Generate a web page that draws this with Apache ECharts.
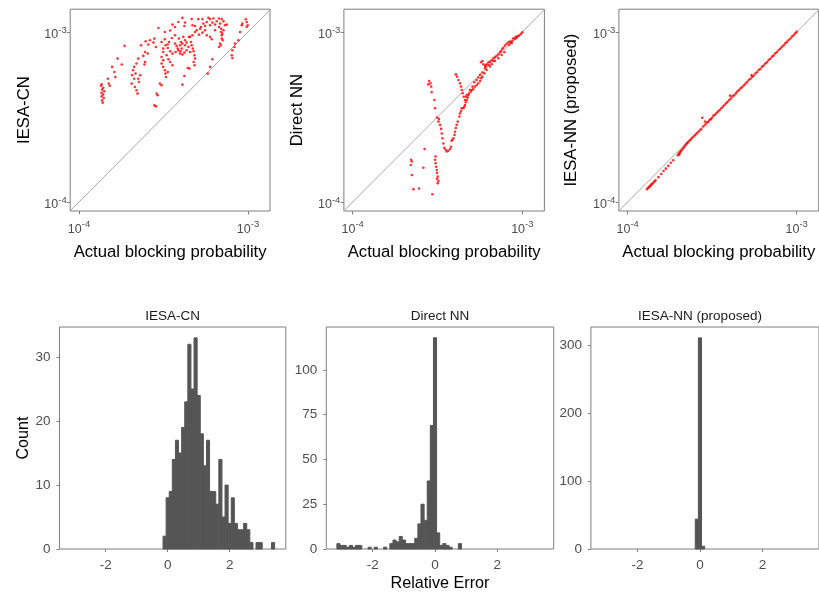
<!DOCTYPE html>
<html>
<head>
<meta charset="utf-8">
<title>Blocking probability: predicted vs actual</title>
<script src="https://cdn.jsdelivr.net/npm/echarts/dist/echarts.min.js"></script>
<style>
  html, body { margin: 0; padding: 0; background: #fff; }
  #chart { width: 819px; height: 594px; }
</style>
</head>
<body>
<div id="chart"></div>
<script>
(function() {
  /** Data */
  var modelNames = ['IESA-CN', 'Direct NN', 'IESA-NN (proposed)'];
  var logTicks = [1e-4, 1e-3];
  var errTicks = [-2, 0, 2];
  var countTicks = [[0, 10, 20, 30], [0, 25, 50, 75, 100], [0, 100, 200, 300]];
  var refLine = [[8.8e-5, 8.8e-5], [1.4e-3, 1.4e-3]];

  // [actual, predicted]
  var iesaCnPoints = [
    [4.09e-4,1.21e-3],[4.64e-4,1.19e-3],[5.08e-4,1.19e-3],[5.37e-4,1.19e-3],[5.83e-4,1.21e-3],[5.96e-4,1.19e-3],
    [6.24e-4,1.20e-3],[6.74e-4,1.20e-3],[6.99e-4,1.19e-3],[7.15e-4,1.155e-3],[7.48e-4,1.105e-3],[6.15e-4,1.135e-3],
    [5.96e-4,1.095e-3],[5.57e-4,1.085e-3],[5.27e-4,1.07e-3],[4.86e-4,1.085e-3],[4.69e-4,1.095e-3],[4.24e-4,1.135e-3],
    [4.20e-4,1.085e-3],[3.87e-4,1.145e-3],[3.70e-4,1.07e-3],[3.57e-4,1.105e-3],[3.46e-4,1.02e-3],[3.22e-4,1.0e-3],
    [2.95e-4,1.056e-3],[2.79e-4,9.14e-4],[2.63e-4,8.93e-4],[2.48e-4,8.81e-4],[2.76e-4,8.66e-4],[2.57e-4,8.43e-4],
    [2.33e-4,8.35e-4],[2.85e-4,8.16e-4],[1.86e-4,8.28e-4],[2.46e-4,7.63e-4],[2.55e-4,7.46e-4],[2.40e-4,7.23e-4],
    [2.24e-4,6.97e-4],[3.22e-4,9.06e-4],[3.08e-4,8.73e-4],[3.25e-4,8.35e-4],[3.15e-4,7.98e-4],[3.35e-4,8.05e-4],
    [3.46e-4,7.70e-4],[3.57e-4,7.46e-4],[3.73e-4,7.63e-4],[3.84e-4,7.98e-4],[3.96e-4,8.35e-4],[4.09e-4,8.54e-4],
    [4.24e-4,8.93e-4],[4.48e-4,9.35e-4],[4.69e-4,9.56e-4],[4.86e-4,1.0e-3],[5.13e-4,9.64e-4],[5.37e-4,9.91e-4],
    [5.57e-4,1.023e-3],[5.70e-4,9.56e-4],[5.96e-4,9.35e-4],[6.10e-4,9.06e-4],[6.38e-4,1.023e-3],[6.74e-4,1.07e-3],
    [6.93e-4,1.0e-3],[6.99e-4,9.56e-4],[7.09e-4,8.93e-4],[6.83e-4,8.54e-4],[6.74e-4,8.16e-4],[7.15e-4,1.023e-3],
    [7.31e-4,1.095e-3],[9.18e-4,1.095e-3],[9.26e-4,1.12e-3],[9.69e-4,1.187e-3],[9.82e-4,1.145e-3],[9.96e-4,1.095e-3],
    [9.82e-4,1.07e-3],[8.97e-4,1.0e-3],[8.77e-4,8.93e-4],[8.38e-4,8.54e-4],[8.31e-4,8.16e-4],[8.08e-4,7.81e-4],
    [8.01e-4,7.29e-4],[8.08e-4,7.03e-4],[6.15e-4,6.91e-4],[5.96e-4,6.23e-4],[5.78e-4,5.69e-4],[4.54e-4,9.35e-4],
    [4.60e-4,8.73e-4],[4.64e-4,8.35e-4],[4.71e-4,7.98e-4],[4.77e-4,7.70e-4],[4.82e-4,7.29e-4],[4.86e-4,6.97e-4],
    [4.77e-4,6.66e-4],[4.82e-4,6.37e-4],[4.50e-4,6.09e-4],[4.40e-4,6.14e-4],[4.20e-4,5.51e-4],[4.09e-4,4.90e-4],
    [3.98e-4,7.70e-4],[4.05e-4,7.98e-4],[4.20e-4,7.56e-4],[4.33e-4,7.81e-4],[3.57e-4,6.37e-4],[3.46e-4,6.66e-4],
    [3.38e-4,6.91e-4],[3.30e-4,7.29e-4],[3.15e-4,7.63e-4],[3.08e-4,7.13e-4],[3.15e-4,6.81e-4],[3.08e-4,6.52e-4],
    [3.15e-4,6.23e-4],[3.22e-4,5.95e-4],[3.25e-4,5.69e-4],[3.35e-4,5.82e-4],[3.27e-4,5.43e-4],[3.01e-4,4.97e-4],
    [3.08e-4,4.86e-4],[2.88e-4,4.34e-4],[2.92e-4,4.24e-4],[2.79e-4,3.70e-4],[2.85e-4,3.65e-4],[2.46e-4,6.66e-4],
    [2.44e-4,6.43e-4],[2.19e-4,6.52e-4],[2.12e-4,6.23e-4],[2.09e-4,5.95e-4],[2.16e-4,5.69e-4],[2.06e-4,5.56e-4],
    [2.12e-4,5.31e-4],[2.05e-4,4.97e-4],[2.14e-4,4.75e-4],[2.19e-4,4.54e-4],[2.22e-4,4.34e-4],[2.24e-4,5.31e-4],
    [2.30e-4,5.56e-4],[2.26e-4,5.08e-4],[1.69e-4,6.97e-4],[1.79e-4,6.43e-4],[1.57e-4,6.23e-4],[1.62e-4,5.82e-4],
    [1.48e-4,5.31e-4],[1.64e-4,5.43e-4],[1.50e-4,4.97e-4],[1.52e-4,4.82e-4],[1.36e-4,4.93e-4],[1.35e-4,4.82e-4],
    [1.39e-4,4.69e-4],[1.37e-4,4.58e-4],[1.41e-4,4.48e-4],[1.36e-4,4.38e-4],[1.39e-4,4.28e-4],[1.36e-4,4.18e-4],
    [1.40e-4,4.09e-4],[1.37e-4,3.96e-4],[1.38e-4,3.84e-4],[3.70e-4,8.54e-4],[3.78e-4,8.28e-4],[3.87e-4,7.81e-4],
    [3.96e-4,7.46e-4],[4.09e-4,7.36e-4],[4.24e-4,8.35e-4],[4.33e-4,8.66e-4],[4.44e-4,8.16e-4],[4.54e-4,7.63e-4],
    [4.01e-4,8.73e-4],[4.14e-4,9.35e-4],[3.90e-4,9.14e-4],[3.70e-4,9.56e-4],[3.54e-4,9.22e-4],[3.41e-4,8.73e-4],
    [3.35e-4,8.43e-4],[6.83e-4,1.12e-3],[6.93e-4,1.045e-3],[7.05e-4,9.78e-4],[6.99e-4,9.14e-4],[6.90e-4,8.35e-4],
    [5.20e-4,1.045e-3],[4.97e-4,1.023e-3],[5.44e-4,1.12e-3],[5.70e-4,1.145e-3],[6.38e-4,1.105e-3],[6.53e-4,1.155e-3]
  ];

  var directNnPoints = [
    [1.0e-3,9.96e-4],[9.82e-4,9.74e-4],[9.56e-4,9.52e-4],[9.27e-4,9.26e-4],[9.06e-4,9.10e-4],[8.73e-4,8.90e-4],
    [8.46e-4,8.78e-4],[8.27e-4,8.69e-4],[8.08e-4,8.51e-4],[8.35e-4,8.39e-4],[8.65e-4,8.58e-4],[7.90e-4,8.31e-4],
    [7.62e-4,7.94e-4],[7.48e-4,7.73e-4],[7.22e-4,7.39e-4],[7.06e-4,7.25e-4],[6.90e-4,7.13e-4],[6.75e-4,7.00e-4],
    [6.60e-4,6.84e-4],[6.45e-4,6.69e-4],[6.31e-4,6.63e-4],[6.16e-4,6.46e-4],[6.03e-4,6.34e-4],[5.81e-4,6.75e-4],
    [5.71e-4,6.63e-4],[5.89e-4,6.46e-4],[6.08e-4,6.26e-4],[6.31e-4,6.40e-4],[6.90e-4,6.75e-4],[7.22e-4,7.00e-4],
    [7.55e-4,7.32e-4],[7.83e-4,7.59e-4],[8.85e-4,9.18e-4],[9.14e-4,9.35e-4],[9.39e-4,9.43e-4],[8.58e-4,8.69e-4],
    [7.72e-4,8.08e-4],[7.38e-4,7.59e-4],[6.75e-4,6.75e-4],[6.60e-4,6.46e-4],[6.45e-4,6.26e-4],[6.16e-4,5.97e-4],
    [5.97e-4,5.71e-4],[5.81e-4,5.46e-4],[5.71e-4,5.34e-4],[5.63e-4,5.15e-4],[5.50e-4,4.99e-4],[5.38e-4,4.88e-4],
    [5.26e-4,4.77e-4],[5.14e-4,4.62e-4],[5.03e-4,4.56e-4],[4.98e-4,4.46e-4],[4.85e-4,4.36e-4],[4.81e-4,4.26e-4],
    [4.76e-4,4.11e-4],[4.70e-4,3.98e-4],[4.64e-4,3.86e-4],[4.59e-4,3.72e-4],[4.55e-4,3.64e-4],[4.49e-4,3.56e-4],
    [4.05e-4,5.63e-4],[4.12e-4,5.46e-4],[4.20e-4,5.22e-4],[4.29e-4,4.99e-4],[4.35e-4,4.77e-4],[4.39e-4,4.56e-4],
    [4.45e-4,4.36e-4],[4.51e-4,4.16e-4],[4.59e-4,3.98e-4],[2.82e-4,5.15e-4],[2.87e-4,4.99e-4],[2.79e-4,4.92e-4],
    [2.90e-4,4.77e-4],[2.92e-4,4.42e-4],[3.03e-4,3.98e-4],[3.06e-4,3.56e-4],[3.14e-4,3.14e-4],[3.20e-4,2.97e-4],
    [3.27e-4,2.84e-4],[3.32e-4,2.69e-4],[3.35e-4,2.53e-4],[3.38e-4,2.37e-4],[3.42e-4,2.21e-4],[3.47e-4,2.08e-4],
    [3.53e-4,2.03e-4],[3.58e-4,1.98e-4],[3.66e-4,2.00e-4],[3.75e-4,2.05e-4],[3.80e-4,2.11e-4],[3.83e-4,2.29e-4],
    [3.87e-4,2.32e-4],[3.92e-4,2.37e-4],[3.98e-4,2.48e-4],[4.01e-4,2.59e-4],[4.05e-4,2.72e-4],[4.10e-4,2.84e-4],
    [4.16e-4,2.97e-4],[4.25e-4,3.18e-4],[4.29e-4,3.32e-4],[4.35e-4,3.43e-4],[4.39e-4,3.56e-4],[3.08e-4,1.85e-4],
    [3.06e-4,1.77e-4],[3.08e-4,1.69e-4],[3.10e-4,1.61e-4],[3.13e-4,1.54e-4],[3.14e-4,1.48e-4],[3.17e-4,1.41e-4],
    [3.14e-4,1.37e-4],[3.20e-4,1.33e-4],[3.17e-4,1.29e-4],[3.22e-4,3.08e-4],[2.65e-4,2.05e-4],[2.21e-4,1.77e-4],
    [2.23e-4,1.73e-4],[2.20e-4,1.65e-4],[2.23e-4,1.44e-4],[2.61e-4,1.59e-4],[2.28e-4,1.19e-4],[2.46e-4,1.20e-4],
    [2.95e-4,1.11e-4],[4.64e-4,4.16e-4],[4.70e-4,4.26e-4],[4.91e-4,4.56e-4],[5.08e-4,4.77e-4],[5.21e-4,5.06e-4],
    [5.38e-4,5.22e-4],[5.50e-4,5.40e-4],[5.63e-4,5.59e-4],[5.81e-4,5.78e-4],[6.03e-4,6.12e-4]
  ];

  var iesaNnPoints = [
    [1.30e-4,1.19e-4],[1.32e-4,1.21e-4],[1.34e-4,1.22e-4],[1.35e-4,1.24e-4],[1.37e-4,1.25e-4],[1.38e-4,1.27e-4],
    [1.40e-4,1.28e-4],[1.42e-4,1.30e-4],[1.44e-4,1.32e-4],[1.46e-4,1.34e-4],[1.52e-4,1.40e-4],[1.58e-4,1.46e-4],
    [1.63e-4,1.52e-4],[1.68e-4,1.57e-4],[1.74e-4,1.63e-4],[1.80e-4,1.70e-4],[1.86e-4,1.76e-4],[1.98e-4,1.88e-4],
    [2.00e-4,1.92e-4],[2.02e-4,1.90e-4],[2.03e-4,1.95e-4],[2.05e-4,1.97e-4],[2.07e-4,2.00e-4],[2.10e-4,2.03e-4],
    [2.13e-4,2.07e-4],[2.16e-4,2.11e-4],[2.19e-4,2.15e-4],[2.22e-4,2.19e-4],[2.25e-4,2.22e-4],[2.28e-4,2.25e-4],
    [2.32e-4,2.29e-4],[2.36e-4,2.33e-4],[2.40e-4,2.38e-4],[2.45e-4,2.42e-4],[2.50e-4,2.47e-4],[2.55e-4,2.52e-4],
    [2.60e-4,2.56e-4],[2.66e-4,2.62e-4],[2.72e-4,2.68e-4],[2.76e-4,3.13e-4],[2.87e-4,2.97e-4],[2.80e-4,2.78e-4],
    [2.88e-4,2.85e-4],[2.95e-4,2.93e-4],[3.00e-4,2.96e-4],[3.05e-4,3.03e-4],[3.10e-4,3.07e-4],[3.16e-4,3.13e-4],
    [3.22e-4,3.22e-4],[3.28e-4,3.26e-4],[3.35e-4,3.33e-4],[3.42e-4,3.40e-4],[3.50e-4,3.47e-4],[3.58e-4,3.56e-4],
    [3.66e-4,3.64e-4],[3.74e-4,3.72e-4],[3.82e-4,3.81e-4],[3.90e-4,3.88e-4],[3.99e-4,3.98e-4],[4.03e-4,4.22e-4],
    [4.08e-4,4.06e-4],[4.17e-4,4.18e-4],[4.26e-4,4.24e-4],[4.36e-4,4.35e-4],[4.46e-4,4.47e-4],[4.56e-4,4.55e-4],
    [4.66e-4,4.67e-4],[4.76e-4,4.74e-4],[4.87e-4,4.86e-4],[4.98e-4,4.98e-4],[5.09e-4,5.07e-4],[5.20e-4,5.21e-4],
    [5.32e-4,5.30e-4],[5.40e-4,5.58e-4],[5.44e-4,5.44e-4],[5.56e-4,5.53e-4],[5.69e-4,5.70e-4],[5.82e-4,5.80e-4],
    [5.95e-4,5.97e-4],[6.09e-4,6.06e-4],[6.23e-4,6.24e-4],[6.37e-4,6.34e-4],[6.52e-4,6.53e-4],[6.67e-4,6.64e-4],
    [6.82e-4,6.84e-4],[6.98e-4,6.95e-4],[7.14e-4,7.16e-4],[7.30e-4,7.27e-4],[7.47e-4,7.48e-4],[7.64e-4,7.62e-4],
    [7.82e-4,7.83e-4],[8.00e-4,7.98e-4],[8.18e-4,8.19e-4],[8.37e-4,8.35e-4],[8.56e-4,8.57e-4],[8.76e-4,8.74e-4],
    [8.96e-4,8.97e-4],[9.17e-4,9.15e-4],[9.38e-4,9.40e-4],[9.60e-4,9.58e-4],[9.82e-4,9.84e-4],[1.0e-3,1.002e-3]
  ];

  // histograms of relative error, bins of width 0.1 centred on multiples of 0.1
  var binWidth = 0.1;
  var iesaCnFirstBin = -0.1;
  var iesaCnCounts = [2, 8, 9, 14, 17, 15, 19, 23, 32, 25, 33, 24, 18, 13, 17, 9, 9, 7, 14, 5,
    10, 4, 8, 4, 3, 3, 4, 3, 1, 0, 1, 1, 0, 0, 0, 1];
  var directNnFirstBin = -3.1;
  var directNnCounts = [3, 2, 2, 1, 2, 1, 2, 2, 0, 0, 1, 0, 1, 0, 0, 1, 0, 3, 5, 4,
    7, 5, 3, 3, 3, 6, 14, 25, 16, 38, 69, 118, 9, 2, 3, 2, 1, 0, 0, 3];
  var iesaNnFirstBin = -0.1;
  var iesaNnCounts = [44, 311, 4];

  /** Style */
  var FONT = 'Liberation Sans';
  var LABEL_COLOR = '#4d4d4d';
  var FRAME_COLOR = '#7f7f7f';
  var BAR_COLOR = '#555555';

  var scatterGrids = [
    { left: 70.2, top: 9.2, width: 199.8, height: 201.8, yGap: 37 },
    { left: 343.9, top: 9.2, width: 200.5, height: 201.8, yGap: 38 },
    { left: 618.9, top: 9.2, width: 199.8, height: 201.8, yGap: 39.5 }
  ];
  var histGrids = [
    { left: 59.5, top: 327, width: 226.3, height: 222 },
    { left: 326.3, top: 327, width: 227.4, height: 222 },
    { left: 590.9, top: 327, width: 230, height: 222 }
  ];
  var histMax = [34.7, 124, 327];

  function powLabel(value) {
    var exp = Math.round(Math.log(value) / Math.LN10);
    return '{base|10}{exp|' + exp + '}';
  }

  var powRich = {
    base: { fontSize: 12.5, lineHeight: 14, padding: [6, 0, 0, 0], color: LABEL_COLOR, fontFamily: FONT },
    exp: { fontSize: 9.5, lineHeight: 12, verticalAlign: 'top', color: LABEL_COLOR, fontFamily: FONT }
  };

  function frame(g) {
    return {
      left: g.left, top: g.top, width: g.width, height: g.height,
      show: true, borderColor: FRAME_COLOR, borderWidth: 1, backgroundColor: 'transparent'
    };
  }

  function logAxis(index, name, gap, isX) {
    return {
      type: 'log',
      gridIndex: index,
      min: isX ? 8.87e-5 : 8.85e-5,
      max: isX ? 1.349e-3 : 1.361e-3,
      axisLine: { show: false, onZero: false },
      splitLine: { show: false },
      axisTick: { show: true, length: 3.3, customValues: logTicks, lineStyle: { color: FRAME_COLOR } },
      axisLabel: {
        customValues: logTicks, formatter: powLabel, rich: powRich,
        margin: isX ? 8.5 : 3.5
      },
      name: name,
      nameLocation: 'middle',
      nameGap: gap,
      nameTextStyle: { fontFamily: FONT, fontSize: 16.7, color: '#000' }
    };
  }

  function errAxis(index) {
    return {
      type: 'value',
      gridIndex: index,
      min: -3.49,
      max: 3.81,
      axisLine: { show: false, onZero: false },
      splitLine: { show: false },
      axisTick: { show: true, length: 3, customValues: errTicks, lineStyle: { color: FRAME_COLOR } },
      axisLabel: { customValues: errTicks, margin: 9, fontFamily: FONT, fontSize: 13.5, color: LABEL_COLOR },
      name: index === 4 ? 'Relative Error' : '',
      nameLocation: 'middle',
      nameGap: 27,
      nameTextStyle: { fontFamily: FONT, fontSize: 16.2, color: '#000' }
    };
  }

  function countAxis(index) {
    var ticks = countTicks[index - 3];
    return {
      type: 'value',
      gridIndex: index,
      min: 0,
      max: histMax[index - 3],
      axisLine: { show: false, onZero: false },
      splitLine: { show: false },
      axisTick: { show: true, length: 3, customValues: ticks, lineStyle: { color: FRAME_COLOR } },
      axisLabel: { customValues: ticks, margin: 9, fontFamily: FONT, fontSize: 13.5, color: LABEL_COLOR },
      name: index === 3 ? 'Count' : '',
      nameLocation: 'middle',
      nameGap: 28,
      nameTextStyle: { fontFamily: FONT, fontSize: 16.2, color: '#000' }
    };
  }

  function toBins(firstCentre, counts) {
    var rows = [];
    for (var i = 0; i < counts.length; i++) {
      if (!counts[i]) continue;
      var c = firstCentre + i * binWidth;
      rows.push([c - binWidth / 2, c + binWidth / 2, counts[i]]);
    }
    return rows;
  }

  function renderBin(params, api) {
    var p0 = api.coord([api.value(0), api.value(2)]);
    var p1 = api.coord([api.value(1), 0]);
    return {
      type: 'rect',
      shape: { x: p0[0], y: p0[1], width: p1[0] - p0[0], height: p1[1] - p0[1] },
      style: { fill: BAR_COLOR, stroke: BAR_COLOR, lineWidth: 1 }
    };
  }

  var scatterData = [iesaCnPoints, directNnPoints, iesaNnPoints];
  var histData = [
    toBins(iesaCnFirstBin, iesaCnCounts),
    toBins(directNnFirstBin, directNnCounts),
    toBins(iesaNnFirstBin, iesaNnCounts)
  ];

  var grid = [], xAxis = [], yAxis = [], series = [], graphic = [];

  scatterGrids.forEach(function(g, i) {
    grid.push(frame(g));
    xAxis.push(logAxis(i, 'Actual blocking probability', 33, true));
    yAxis.push(logAxis(i, modelNames[i], g.yGap, false));
    series.push({
      type: 'line', xAxisIndex: i, yAxisIndex: i, data: refLine,
      showSymbol: false, silent: true, z: 1,
      lineStyle: { color: '#a6a6a6', width: 1 }
    });
    series.push({
      type: 'scatter', xAxisIndex: i, yAxisIndex: i, data: scatterData[i],
      symbolSize: 2.6, silent: true, z: 2,
      itemStyle: { color: '#ff0000' }
    });
  });

  histGrids.forEach(function(g, i) {
    var k = i + 3;
    grid.push(frame(g));
    xAxis.push(errAxis(k));
    yAxis.push(countAxis(k));
    series.push({
      type: 'custom', xAxisIndex: k, yAxisIndex: k, data: histData[i],
      encode: { x: [0, 1], y: 2 }, renderItem: renderBin, silent: true
    });
    graphic.push({
      type: 'text',
      x: i === 2 ? 700 : g.left + g.width / 2,
      y: 316,
      style: {
        text: modelNames[i], fill: '#1a1a1a', font: '13.5px "Liberation Sans"',
        align: 'center', verticalAlign: 'middle'
      }
    });
  });

  var chart = echarts.init(document.getElementById('chart'));
  chart.setOption({
    animation: false,
    backgroundColor: '#fff',
    textStyle: { fontFamily: FONT },
    grid: grid,
    xAxis: xAxis,
    yAxis: yAxis,
    series: series,
    graphic: graphic
  });
})();
</script>
</body>
</html>
